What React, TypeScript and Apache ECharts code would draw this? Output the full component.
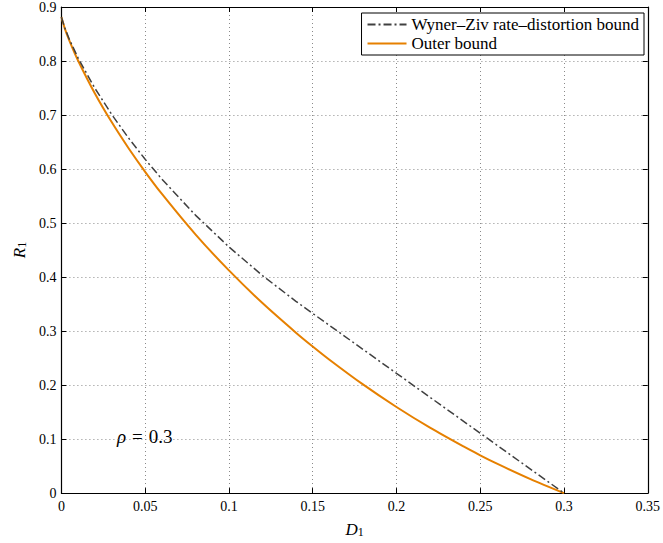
import React, { useEffect, useRef } from "react";
import * as echarts from "echarts";

const xTicks = { min: 0, max: 0.35, interval: 0.05 };
const yTicks = { min: 0, max: 0.9, interval: 0.1 };

const wzD = [0, 0.002, 0.005, 0.01, 0.02, 0.03, 0.04, 0.05, 0.06, 0.08, 0.1, 0.12, 0.14, 0.145, 0.2, 0.25, 0.3];
const wzR = [0.8813, 0.8615, 0.8383, 0.8053, 0.7495, 0.7011, 0.6577, 0.618, 0.5813, 0.5147, 0.4558, 0.4028, 0.3551, 0.3438, 0.2218, 0.1109, 0];

const obD = [0, 0.002, 0.005, 0.01, 0.02, 0.03, 0.04, 0.05, 0.06, 0.08, 0.1, 0.12, 0.14, 0.15, 0.16, 0.18, 0.2, 0.22, 0.24, 0.25, 0.26, 0.28, 0.3];
const obR = [0.8813, 0.8605, 0.8359, 0.8005, 0.7399, 0.6869, 0.639, 0.5949, 0.5539, 0.4791, 0.4123, 0.3519, 0.2971, 0.2715, 0.247, 0.2012, 0.1594, 0.1211, 0.0863, 0.07, 0.0545, 0.0259, 0];

const seriesNames = ["Wyner–Ziv rate–distortion bound", "Outer bound"];
const annotationSymbol = "ρ";
const annotationValue = "0.3";

const FONT = "'Liberation Serif', 'DejaVu Serif', serif";

export default function App() {
  const ref = useRef<HTMLDivElement>(null);
  useEffect(() => {
    document.body.style.margin = "0";
    if (!ref.current) return;
    const chart = echarts.init(ref.current, undefined, { renderer: "svg" });
    const splitLine = { show: true, lineStyle: { color: "#8a8a8a", type: [1, 3], width: 1 } };
    const axisLine = { show: true, onZero: false, lineStyle: { color: "#000", width: 1.2 } };
    const tick = { show: true, inside: true, length: 5, lineStyle: { color: "#000", width: 1 } };
    const nameRich = {
      i: { fontFamily: FONT, fontStyle: "italic", fontSize: 17, color: "#000", verticalAlign: "top", lineHeight: 17 },
      s: { fontFamily: FONT, fontSize: 12, color: "#000", verticalAlign: "bottom", lineHeight: 12, padding: [8, 0, 0, 0] },
    };
    chart.setOption({
      animation: false,
      backgroundColor: "#fff",
      grid: { left: 55, right: 12, top: 6, bottom: 46, containLabel: false },
      xAxis: [
        {
          type: "value", ...xTicks, position: "bottom",
          axisLine, axisTick: tick, splitLine,
          axisLabel: { color: "#000", fontFamily: FONT, fontSize: 14, margin: 6, formatter: (v: number) => String(+v.toFixed(2)) },
          name: "{i|D}{s|1}", nameLocation: "middle", nameGap: 19,
          nameTextStyle: { rich: nameRich },
        },
        {
          type: "value", ...xTicks, position: "top",
          axisLine, axisTick: tick, splitLine: { show: false }, axisLabel: { show: false },
        },
      ],
      yAxis: [
        {
          type: "value", ...yTicks, position: "left",
          axisLine, axisTick: tick, splitLine,
          axisLabel: { color: "#000", fontFamily: FONT, fontSize: 14, margin: 5, formatter: (v: number) => String(+v.toFixed(1)) },
          name: "{i|R}{s|1}", nameLocation: "middle", nameGap: 27, nameRotate: 90,
          nameTextStyle: { rich: nameRich },
        },
        {
          type: "value", ...yTicks, position: "right",
          axisLine, axisTick: tick, splitLine: { show: false }, axisLabel: { show: false },
        },
      ],
      legend: {
        orient: "vertical", right: 19, top: 13,
        backgroundColor: "#fff", borderColor: "#000", borderWidth: 1, borderRadius: 0,
        padding: [3, 5, 3, 5], itemGap: 2, itemWidth: 39, itemHeight: 17,
        itemStyle: { opacity: 0 },
        textStyle: { fontFamily: FONT, fontSize: 17, color: "#000" },
        data: seriesNames,
      },
      series: [
        {
          name: seriesNames[0], type: "line", symbol: "none",
          data: wzD.map((d, i) => [d, wzR[i]]),
          lineStyle: { color: "#404040", width: 1.5, type: [8, 3, 2, 3] },
          itemStyle: { color: "#404040" }, z: 3,
        },
        {
          name: seriesNames[1], type: "line", symbol: "none", smooth: 0.3,
          data: obD.map((d, i) => [d, obR[i]]),
          lineStyle: { color: "#e68000", width: 2 },
          itemStyle: { color: "#e68000" }, z: 2,
        },
      ],
      graphic: [
        {
          type: "text", left: 117, top: 427,
          style: {
            text: "{r|" + annotationSymbol + "}{e|=}{n|" + annotationValue + "}",
            rich: {
              r: { fontFamily: FONT, fontStyle: "italic", fontSize: 19, fill: "#000" },
              e: { fontFamily: FONT, fontSize: 19, fill: "#000", padding: [0, 6] },
              n: { fontFamily: FONT, fontSize: 19, fill: "#000" },
            },
          },
        },
      ],
    });
    return () => chart.dispose();
  }, []);
  return <div ref={ref} style={{ width: 663, height: 543 }} />;
}
